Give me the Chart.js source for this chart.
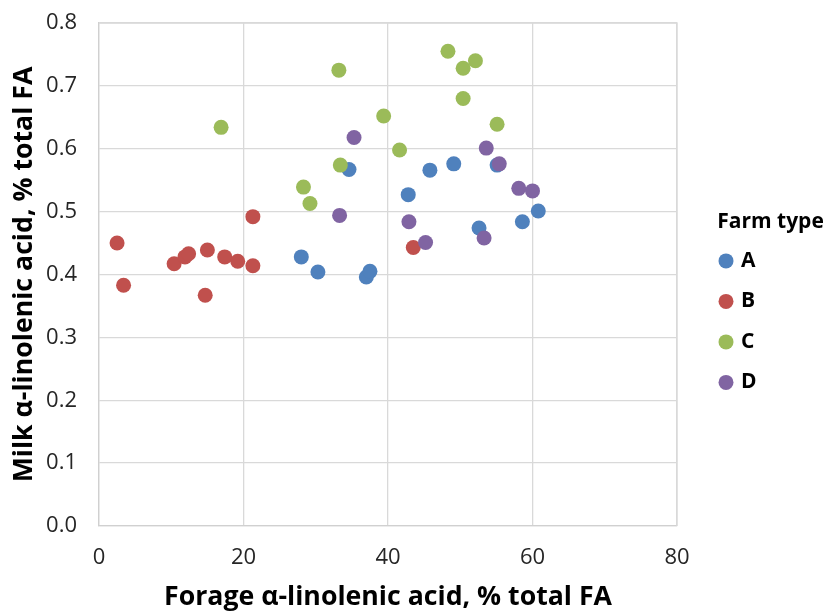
<!DOCTYPE html>
<html>
<head>
<meta charset="utf-8">
<script src="https://cdn.jsdelivr.net/npm/chart.js@4.4.0/dist/chart.umd.min.js"></script>
<style>
html,body{margin:0;padding:0;background:#fff;}
#wrap{width:831px;height:613px;position:relative;}
</style>
</head>
<body>
<div id="wrap"><canvas id="c" width="831" height="613"></canvas></div>
<script>
const seriesNames = ["A", "B", "C", "D"];
const seriesColors = ["#4F81BD", "#C0504D", "#9BBB59", "#8064A2"];

const aX = [34.6, 28.0, 30.3, 37.0, 37.5, 42.8, 45.8, 49.1, 52.6, 58.6, 60.8, 55.1];
const aY = [0.567, 0.428, 0.404, 0.396, 0.405, 0.527, 0.566, 0.576, 0.474, 0.484, 0.501, 0.574];

const bX = [2.5, 3.4, 10.4, 11.9, 12.4, 15.0, 14.7, 17.4, 19.2, 21.3, 21.3, 43.5];
const bY = [0.450, 0.383, 0.417, 0.428, 0.433, 0.439, 0.367, 0.428, 0.421, 0.414, 0.492, 0.443];

const cX = [16.9, 33.2, 39.4, 41.6, 33.4, 28.3, 29.2, 48.3, 50.4, 52.1, 50.4, 55.1];
const cY = [0.634, 0.725, 0.652, 0.598, 0.574, 0.539, 0.513, 0.755, 0.728, 0.740, 0.680, 0.639];

const dX = [35.3, 33.3, 42.9, 45.2, 53.6, 55.4, 58.1, 60.0, 53.3];
const dY = [0.618, 0.494, 0.484, 0.451, 0.601, 0.576, 0.537, 0.533, 0.458];

const xTicks = [0, 20, 40, 60, 80];
const yTicks = [0.0, 0.1, 0.2, 0.3, 0.4, 0.5, 0.6, 0.7, 0.8];

const xTitle = "Forage α-linolenic acid, % total FA";
const yTitle = "Milk α-linolenic acid, % total FA";
const legendTitle = "Farm type";

const allX = [aX, bX, cX, dX];
const allY = [aY, bY, cY, dY];

const datasets = seriesNames.map((name, i) => ({
  label: name,
  data: allX[i].map((x, j) => ({ x: x, y: allY[i][j] })),
  backgroundColor: seriesColors[i],
  borderColor: seriesColors[i],
  borderWidth: 0,
  pointRadius: 7.5,
  pointHoverRadius: 7.5,
  pointStyle: 'circle',
  order: seriesNames.length - 1 - i
}));

const FONT = "'Open Sans', 'Liberation Sans', sans-serif";

const legendPlace = {
  id: 'legendPlace',
  beforeLayout(chart) {
    const lg = chart.legend;
    if (lg && !lg._patched) {
      const orig = lg.fit;
      lg.fit = function () { orig.call(this); this.width = 154; };
      lg._patched = true;
    }
  },
  afterLayout(chart) {
    const lg = chart.legend;
    if (!lg) return;
    lg.left = 702;
    lg.width = 137;
    lg.right = lg.left + lg.width;
    lg.top = 212;
  },
  afterDraw(chart) {
    const a = chart.chartArea, ctx = chart.ctx;
    ctx.save();
    ctx.strokeStyle = '#d9d9d9';
    ctx.lineWidth = 1.3;
    ctx.beginPath();
    ctx.moveTo(a.left, a.top); ctx.lineTo(a.right, a.top); ctx.lineTo(a.right, a.bottom);
    ctx.stroke();
    ctx.restore();
  }
};

new Chart(document.getElementById('c'), {
  type: 'scatter',
  data: { datasets },
  options: {
    responsive: false,
    animation: false,
    devicePixelRatio: 1,
    layout: { padding: { top: 23, left: 8, right: 0, bottom: 0 } },
    plugins: {
      tooltip: { enabled: false },
      legend: {
        position: 'right',
        align: 'start',
        title: {
          display: true,
          text: legendTitle,
          color: '#000',
          position: 'center',
          font: { family: FONT, size: 21, weight: 'bold', lineHeight: 0.9 },
          padding: { top: 0, bottom: 0 }
        },
        labels: {
          usePointStyle: true,
          pointStyle: 'circle',
          boxWidth: 9,
          boxHeight: 10.6,
          padding: 19.5,
          color: '#000',
          font: { family: FONT, size: 21, weight: 'bold' },
          sort: (a, b) => a.datasetIndex - b.datasetIndex
        }
      }
    },
    scales: {
      x: {
        type: 'linear',
        min: 0, max: 80,
        afterBuildTicks: s => { s.ticks = xTicks.map(v => ({ value: v })); },
        afterFit: s => { s.height = 87; s.paddingLeft = 0; s.paddingRight = 0; },
        ticks: {
          color: '#262626',
          font: { family: FONT, size: 22 },
          padding: 19,
          maxRotation: 0
        },
        grid: { color: '#d9d9d9', lineWidth: 1.3, drawTicks: false },
        border: { color: '#d0d0d0', width: 1.3 },
        title: {
          display: true,
          text: xTitle,
          color: '#000',
          font: { family: FONT, size: 26.7, weight: 'bold' },
          padding: { top: 0, bottom: 0 }
        }
      },
      y: {
        type: 'linear',
        min: 0, max: 0.8,
        afterBuildTicks: s => { s.ticks = yTicks.map(v => ({ value: v })); },
        afterFit: s => { s.width = 91; s.paddingTop = 0; s.paddingBottom = 0; },
        ticks: {
          color: '#262626',
          font: { family: FONT, size: 22 },
          padding: 22,
          callback: v => Number(v).toFixed(1)
        },
        grid: { color: '#d9d9d9', lineWidth: 1.3, drawTicks: false },
        border: { color: '#d0d0d0', width: 1.3 },
        title: {
          display: true,
          text: yTitle,
          color: '#000',
          font: { family: FONT, size: 26.7, weight: 'bold' },
          padding: { top: 0, bottom: 0 }
        }
      }
    }
  },
  plugins: [legendPlace]
});
</script>
</body>
</html>
